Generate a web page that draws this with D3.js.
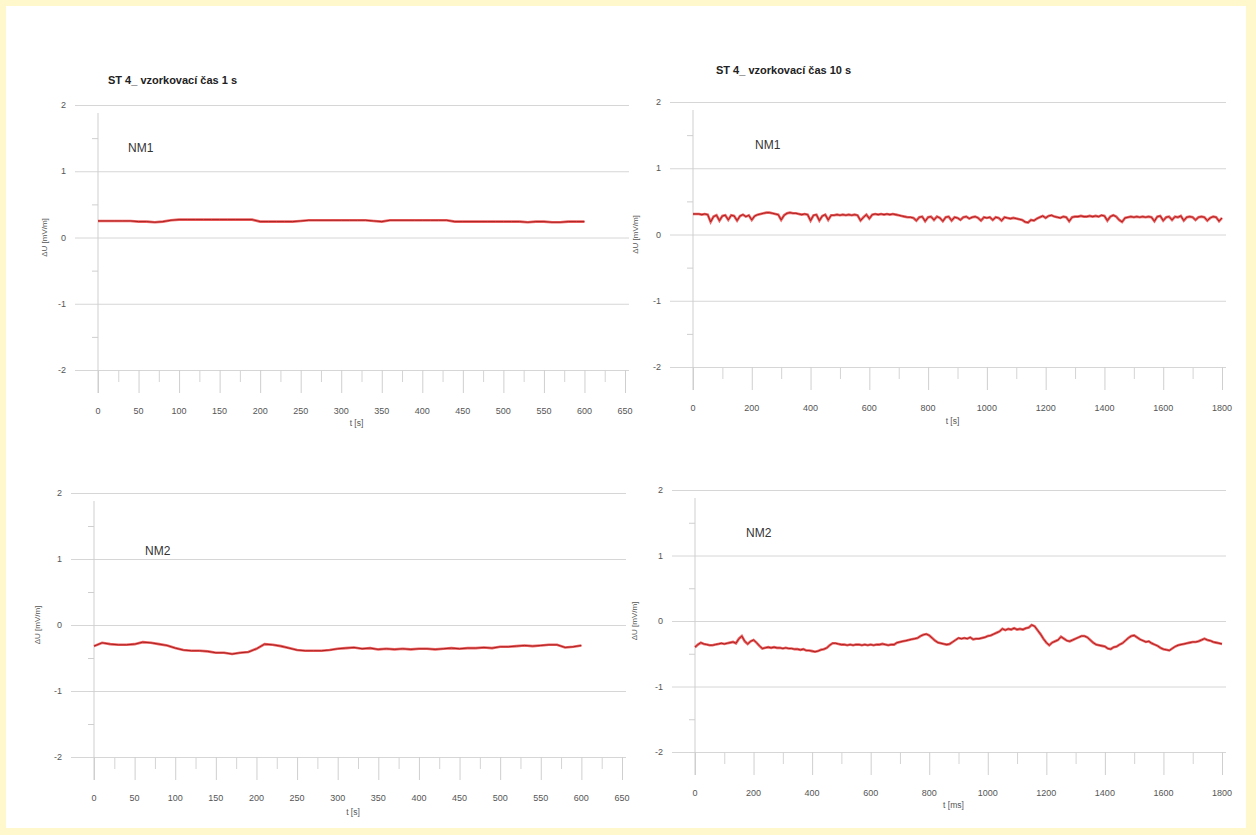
<!DOCTYPE html>
<html>
<head>
<meta charset="utf-8">
<script src="https://cdn.jsdelivr.net/npm/d3@7"></script>
<style>
  body { margin: 0; background: #fff8cc; }
  svg { display: block; font-family: "Liberation Sans", Arial, sans-serif; }
</style>
</head>
<body>
<svg id="chart" width="1256" height="835"></svg>
<script>
// ---- data ----
const yTicks = [-2, -1, 0, 1, 2];
const xTicks1s = [0, 50, 100, 150, 200, 250, 300, 350, 400, 450, 500, 550, 600, 650];
const xTicks10s = [0, 200, 400, 600, 800, 1000, 1200, 1400, 1600, 1800];

// sampling grids
const t1s = d3.range(0, 601, 10);
const t10s = d3.range(0, 1801, 10);

// ST 4, 1 s, NM1
const nm1_1s = [
  0.25, 0.25, 0.25, 0.25, 0.25, 0.24, 0.24, 0.23, 0.24, 0.26,
  0.27, 0.27, 0.27, 0.27, 0.27, 0.27, 0.27, 0.27, 0.27, 0.27,
  0.24, 0.24, 0.24, 0.24, 0.24, 0.25, 0.26, 0.26, 0.26, 0.26,
  0.26, 0.26, 0.26, 0.26, 0.25, 0.24, 0.26, 0.26, 0.26, 0.26,
  0.26, 0.26, 0.26, 0.26, 0.24, 0.24, 0.24, 0.24, 0.24, 0.24,
  0.24, 0.24, 0.24, 0.23, 0.24, 0.24, 0.23, 0.23, 0.24, 0.24,
  0.24
];

// ST 4, 1 s, NM2
const nm2_1s = [
  -0.32, -0.27, -0.29, -0.30, -0.30, -0.29, -0.26, -0.27, -0.29, -0.31,
  -0.35, -0.38, -0.39, -0.39, -0.40, -0.42, -0.42, -0.44, -0.42, -0.41,
  -0.36, -0.29, -0.30, -0.32, -0.35, -0.38, -0.39, -0.39, -0.39, -0.38,
  -0.36, -0.35, -0.34, -0.36, -0.35, -0.37, -0.36, -0.37, -0.36, -0.37,
  -0.36, -0.36, -0.37, -0.36, -0.35, -0.36, -0.35, -0.35, -0.34, -0.35,
  -0.33, -0.33, -0.32, -0.31, -0.32, -0.31, -0.30, -0.30, -0.34, -0.33,
  -0.31
];

// ST 4, 10 s, NM1
const nm1_10s = [
  0.31, 0.31, 0.31, 0.30, 0.31, 0.30, 0.19, 0.27, 0.29, 0.21,
  0.28, 0.29, 0.22, 0.29, 0.28, 0.21, 0.28, 0.30, 0.27, 0.29,
  0.22, 0.28, 0.30, 0.31, 0.32, 0.33, 0.33, 0.32, 0.31, 0.30,
  0.22, 0.29, 0.32, 0.33, 0.32, 0.32, 0.31, 0.30, 0.31, 0.30,
  0.21, 0.29, 0.30, 0.21, 0.28, 0.30, 0.22, 0.29, 0.29, 0.30,
  0.29, 0.30, 0.29, 0.30, 0.29, 0.30, 0.29, 0.21, 0.26, 0.30,
  0.24, 0.30, 0.31, 0.30, 0.31, 0.30, 0.31, 0.30, 0.31, 0.30,
  0.29, 0.28, 0.27, 0.26, 0.26, 0.25, 0.21, 0.26, 0.27, 0.20,
  0.26, 0.27, 0.22, 0.27, 0.25, 0.20, 0.26, 0.27, 0.21, 0.26,
  0.25, 0.22, 0.26, 0.27, 0.24, 0.26, 0.27, 0.25, 0.21, 0.26,
  0.25, 0.26, 0.22, 0.26, 0.25, 0.21, 0.26, 0.25, 0.24, 0.25,
  0.24, 0.23, 0.22, 0.19, 0.18, 0.22, 0.21, 0.24, 0.26, 0.28,
  0.25, 0.28, 0.29, 0.27, 0.26, 0.25, 0.27, 0.26, 0.20, 0.26,
  0.27, 0.27, 0.28, 0.27, 0.27, 0.28, 0.27, 0.28, 0.27, 0.29,
  0.28, 0.21, 0.27, 0.29, 0.27, 0.22, 0.19, 0.25, 0.26, 0.27,
  0.26, 0.27, 0.26, 0.27, 0.26, 0.27, 0.26, 0.20, 0.27, 0.28,
  0.21, 0.26, 0.27, 0.22, 0.27, 0.26, 0.28, 0.21, 0.26, 0.27,
  0.26, 0.22, 0.26, 0.27, 0.26, 0.21, 0.25, 0.27, 0.26, 0.20,
  0.25
];

// ST 4, 10 s, NM2
const nm2_10s = [
  -0.40, -0.36, -0.33, -0.35, -0.36, -0.37, -0.37, -0.36, -0.35, -0.34,
  -0.35, -0.34, -0.33, -0.32, -0.34, -0.27, -0.23, -0.31, -0.35, -0.31,
  -0.29, -0.33, -0.38, -0.42, -0.41, -0.40, -0.41, -0.40, -0.41, -0.41,
  -0.42, -0.41, -0.42, -0.42, -0.43, -0.43, -0.44, -0.43, -0.45, -0.45,
  -0.46, -0.47, -0.46, -0.44, -0.43, -0.41, -0.37, -0.34, -0.34, -0.35,
  -0.36, -0.36, -0.37, -0.36, -0.37, -0.36, -0.36, -0.37, -0.36, -0.37,
  -0.36, -0.37, -0.36, -0.36, -0.35, -0.36, -0.37, -0.36, -0.36, -0.33,
  -0.32, -0.31, -0.30, -0.29, -0.28, -0.27, -0.26, -0.23, -0.21, -0.20,
  -0.22, -0.26, -0.30, -0.33, -0.34, -0.35, -0.36, -0.35, -0.32, -0.29,
  -0.26, -0.27, -0.26, -0.27, -0.25, -0.28, -0.27, -0.27, -0.26, -0.25,
  -0.23, -0.22, -0.20, -0.18, -0.16, -0.12, -0.14, -0.12, -0.13, -0.11,
  -0.13, -0.12, -0.13, -0.11, -0.10, -0.06, -0.08, -0.14, -0.20, -0.27,
  -0.33, -0.37, -0.33, -0.31, -0.29, -0.24, -0.27, -0.30, -0.31, -0.29,
  -0.27, -0.25, -0.23, -0.23, -0.25, -0.29, -0.33, -0.36, -0.37, -0.38,
  -0.39, -0.42, -0.43, -0.40, -0.39, -0.36, -0.34, -0.30, -0.26, -0.23,
  -0.22, -0.25, -0.28, -0.30, -0.32, -0.31, -0.34, -0.36, -0.38, -0.41,
  -0.43, -0.44, -0.45, -0.42, -0.39, -0.37, -0.36, -0.35, -0.34, -0.33,
  -0.32, -0.32, -0.31, -0.29, -0.27, -0.29, -0.30, -0.32, -0.33, -0.34,
  -0.35
];

// ---- layout of the four panels ----
const panels = [
  { t: t1s, v: nm1_1s, xMax: 650, xt: xTicks1s, minor: 25, x0: 98, x1: 625, yTop: 105, yBot: 370,
    title: "ST 4_ vzorkovací čas 1 s", titleX: 108, titleY: 84, tag: "NM1", tagX: 128, tagY: 152,
    xLabel: "t [s]", xLabelY: 426, yLabelX: 47 },
  { t: t10s, v: nm1_10s, xMax: 1800, xt: xTicks10s, minor: 100, x0: 693, x1: 1222, yTop: 102, yBot: 367,
    title: "ST 4_ vzorkovací čas 10 s", titleX: 716, titleY: 74, tag: "NM1", tagX: 755, tagY: 149,
    xLabel: "t [s]", xLabelY: 424, yLabelX: 638 },
  { t: t1s, v: nm2_1s, xMax: 650, xt: xTicks1s, minor: 25, x0: 94, x1: 622, yTop: 493, yBot: 757,
    title: null, tag: "NM2", tagX: 145, tagY: 555,
    xLabel: "t [s]", xLabelY: 815, yLabelX: 40 },
  { t: t10s, v: nm2_10s, xMax: 1800, xt: xTicks10s, minor: 100, x0: 695, x1: 1222, yTop: 490, yBot: 752,
    title: null, tag: "NM2", tagX: 746, tagY: 537,
    xLabel: "t [ms]", xLabelY: 808, yLabelX: 637 }
];

const svg = d3.select('#chart');

svg.append('rect')
  .attr('x', 6).attr('y', 6)
  .attr('width', 1240).attr('height', 822)
  .attr('fill', '#ffffff');

panels.forEach(p => {
  const x = d3.scaleLinear().domain([0, p.xMax]).range([p.x0, p.x1]);
  const y = d3.scaleLinear().domain([-2, 2]).range([p.yBot, p.yTop]);
  const g = svg.append('g');

  // horizontal grid lines (stick out left of the axis)
  g.append('g')
    .attr('transform', `translate(${p.x0 - 23},0)`)
    .call(d3.axisRight(y).tickValues(yTicks).tickSize(p.x1 - p.x0 + 27).tickFormat(''))
    .call(a => a.select('.domain').remove())
    .selectAll('line').attr('stroke', '#d6d6d6');

  // y tick labels
  g.selectAll('.ylab')
    .data(yTicks)
    .enter()
    .append('text')
    .attr('x', p.x0 - 32)
    .attr('y', d => y(d) + 3)
    .attr('text-anchor', 'end')
    .attr('font-size', 9)
    .attr('fill', '#555')
    .text(d => d);

  // y minor ticks at half units
  g.append('g')
    .attr('transform', `translate(${p.x0},0)`)
    .call(d3.axisLeft(y).tickValues([-1.5, -0.5, 0.5, 1.5]).tickSize(6).tickFormat(''))
    .call(a => a.select('.domain').attr('stroke', '#cfcfcf').attr('d', `M0,${p.yTop + 8}V${p.yBot + 23}`))
    .selectAll('line').attr('stroke', '#cfcfcf');

  // x ticks hanging below the -2 line
  g.append('g')
    .attr('transform', `translate(0,${p.yBot})`)
    .call(d3.axisBottom(x).tickValues(p.xt).tickSize(23).tickFormat(''))
    .call(a => a.select('.domain').remove())
    .selectAll('line').attr('stroke', '#cfcfcf');

  const minorTicks = d3.range(p.minor, p.xMax, p.minor * 2);
  g.append('g')
    .attr('transform', `translate(0,${p.yBot})`)
    .call(d3.axisBottom(x).tickValues(minorTicks).tickSize(12).tickFormat(''))
    .call(a => a.select('.domain').remove())
    .selectAll('line').attr('stroke', '#d4d4d4');

  // x tick labels
  g.selectAll('.xlab')
    .data(p.xt)
    .enter()
    .append('text')
    .attr('x', d => x(d))
    .attr('y', p.yBot + 44)
    .attr('text-anchor', 'middle')
    .attr('font-size', 9)
    .attr('fill', '#555')
    .text(d => d);

  g.append('text')
    .attr('x', (p.x0 + p.x1) / 2 - 5)
    .attr('y', p.xLabelY)
    .attr('text-anchor', 'middle')
    .attr('font-size', 8.5)
    .attr('fill', '#555')
    .text(p.xLabel);

  g.append('text')
    .attr('transform', `translate(${p.yLabelX},${y(0)}) rotate(-90)`)
    .attr('text-anchor', 'middle')
    .attr('font-size', 8)
    .attr('fill', '#555')
    .text('ΔU [mV/m]');

  if (p.title) {
    g.append('text')
      .attr('x', p.titleX)
      .attr('y', p.titleY)
      .attr('font-size', 11)
      .attr('font-weight', 'bold')
      .attr('fill', '#222')
      .text(p.title);
  }

  g.append('text')
    .attr('x', p.tagX)
    .attr('y', p.tagY)
    .attr('font-size', 12)
    .attr('fill', '#333')
    .text(p.tag);

  // the measured line: red halo with a darker core
  const pts = p.t.map((t, i) => [t, p.v[i]]);
  const line = d3.line().x(d => x(d[0])).y(d => y(d[1]));
  g.append('path')
    .datum(pts)
    .attr('d', line)
    .attr('fill', 'none')
    .attr('stroke', '#ec3b3b')
    .attr('stroke-width', 2.6)
    .attr('stroke-opacity', 0.8);
  g.append('path')
    .datum(pts)
    .attr('d', line)
    .attr('fill', 'none')
    .attr('stroke', '#a82020')
    .attr('stroke-width', 1);
});
</script>
</body>
</html>
